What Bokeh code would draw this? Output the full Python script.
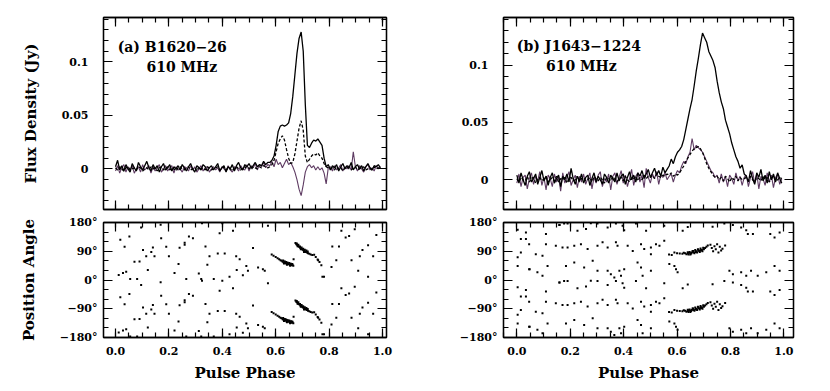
import numpy as np
from bokeh.plotting import figure
from bokeh.layouts import row, column
from bokeh.models import Range1d, LinearAxis, FixedTicker, Label, CustomJSTickFormatter
from bokeh.embed import file_html
from bokeh.resources import INLINE

# ---------------- data ----------------
n_bins = 128
phase = [i / n_bins for i in range(n_bins)]

# (a) B1620-26 : total intensity (solid), linear (dashed), circular (purple)
a_I = [
    0.002, 0.008, -0.001, 0.003, -0.002, 0.004, 0.000, -0.003, 0.005, 0.001, -0.002, 0.006, 0.002, -0.001, 0.003, 0.007,
    0.001, -0.002, 0.004, 0.000, 0.003, -0.003, 0.002, 0.005, -0.001, 0.001, 0.004, -0.002, 0.002, 0.000, 0.003, -0.001,
    0.004, 0.001, -0.002, 0.002, 0.005, 0.000, -0.003, 0.003, 0.001, -0.001, 0.004, 0.002, -0.002, 0.001, 0.003, -0.001,
    0.002, 0.005, -0.002, 0.001, 0.003, -0.003, 0.002, 0.000, 0.004, -0.002, 0.003, 0.006, 0.001, -0.001, 0.004, 0.002,
    0.005, 0.001, 0.003, 0.006, 0.002, 0.004, 0.003, 0.007, 0.004, 0.006,
    0.006, 0.008, 0.012, 0.022, 0.035, 0.040, 0.041, 0.040, 0.041, 0.043, 0.052, 0.068, 0.088, 0.108, 0.122, 0.128,
    0.110, 0.060, 0.022, 0.020, 0.024, 0.027, 0.026, 0.028, 0.025, 0.022, 0.010, 0.002, 0.004,
    -0.001, 0.003, 0.001, 0.004, -0.002, 0.002, 0.005, 0.000, 0.003, 0.001, 0.006, -0.001, 0.002, 0.004, 0.000, 0.003,
    -0.002, 0.002, 0.005, 0.001, -0.001, 0.003, 0.002, 0.004, 0.001]
a_L = [
    0.001, -0.001, 0.002, 0.000, -0.002, 0.001, 0.002, -0.001, 0.000, 0.001, -0.001, 0.002, 0.001, -0.002, 0.000, 0.001,
    -0.001, 0.002, 0.000, 0.001, -0.002, 0.001, 0.002, -0.001, 0.000, 0.002, -0.001, 0.001, 0.000, -0.002, 0.001, 0.002,
    0.000, -0.001, 0.001, 0.002, -0.001, 0.000, 0.001, -0.002, 0.002, 0.000, 0.001, -0.001, 0.002, 0.001, -0.001, 0.000,
    0.001, 0.002, -0.001, 0.000, 0.002, -0.001, 0.001, 0.000, -0.002, 0.001, 0.002, 0.000, -0.001, 0.001, 0.002, 0.000,
    0.001, -0.001, 0.002, 0.001, 0.000, 0.002, 0.001, 0.003, 0.002, 0.001,
    0.002, 0.004, 0.008, 0.016, 0.024, 0.028, 0.031, 0.027, 0.018, 0.010, 0.005, 0.006, 0.014, 0.026, 0.038, 0.045,
    0.036, 0.012, 0.006, 0.009, 0.012, 0.014, 0.013, 0.015, 0.012, 0.010, 0.005, 0.002, 0.001,
    0.000, 0.001, -0.001, 0.002, 0.000, 0.001, -0.002, 0.001, 0.002, 0.000, -0.001, 0.001, 0.002, -0.001, 0.000, 0.001,
    0.002, -0.001, 0.000, 0.001, -0.001, 0.002, 0.000, 0.001, 0.000]
a_V = [
    -0.002, 0.003, -0.004, 0.001, 0.004, -0.003, 0.002, -0.001, 0.003, -0.004, 0.000, 0.002, -0.003, 0.004, -0.001, 0.001,
    0.003, -0.004, 0.002, -0.002, 0.001, 0.004, -0.003, 0.000, 0.003, -0.002, 0.001, 0.003, -0.004, 0.002, -0.001, 0.000,
    -0.003, 0.002, 0.001, -0.002, 0.003, -0.001, 0.002, -0.003, 0.000, 0.003, -0.002, 0.001, 0.002, -0.003, 0.000, 0.002,
    -0.001, 0.001, -0.003, 0.002, 0.000, -0.002, 0.003, -0.001, -0.003, 0.002, 0.001, -0.002, 0.003, 0.000, -0.001, 0.004,
    -0.002, 0.003, 0.001, 0.005, -0.001, 0.004, 0.002, 0.006, 0.001, 0.004,
    0.003, 0.007, 0.002, 0.009, 0.004, 0.006, 0.001, 0.005, 0.009, 0.004, 0.006, 0.002, -0.003, -0.010, -0.019, -0.025,
    -0.015, -0.003, 0.002, 0.004, 0.001, 0.003, -0.001, 0.002, -0.001, 0.001, -0.004, -0.014, 0.001,
    0.002, -0.002, 0.003, -0.001, 0.001, 0.004, -0.002, 0.002, 0.000, 0.003, -0.001, 0.016, 0.002, -0.002, 0.003, 0.000,
    -0.003, 0.002, 0.004, -0.001, 0.001, -0.002, 0.003, 0.000, 0.002]

# (b) J1643-1224
b_I = [
    0.004, -0.003, 0.006, 0.000, -0.005, 0.003, 0.007, -0.002, 0.001, 0.005, -0.004, 0.002, 0.008, -0.001, 0.003, -0.005,
    0.002, 0.006, -0.003, 0.001, 0.004, -0.006, 0.003, 0.000, 0.005, -0.002, 0.010, 0.001, -0.004, 0.003, -0.001, 0.005,
    -0.003, 0.002, 0.004, -0.005, 0.001, 0.006, -0.002, 0.003, 0.000, -0.004, 0.005, 0.002, -0.003, 0.004, 0.001, -0.002,
    0.006, -0.001, 0.003, 0.005, -0.004, 0.002, 0.007, 0.000, 0.004, -0.002, 0.006, 0.003, 0.008, 0.001, 0.005, 0.009,
    0.002, 0.006, 0.010, 0.004, 0.008, 0.003, 0.011, 0.006, 0.009,
    0.012, 0.018, 0.014, 0.020, 0.024, 0.026, 0.029, 0.035, 0.044, 0.053, 0.062, 0.070, 0.082, 0.095, 0.106, 0.118,
    0.128, 0.124, 0.120, 0.112, 0.108, 0.104, 0.098, 0.086, 0.076, 0.068, 0.062, 0.052, 0.046, 0.040, 0.032, 0.026,
    0.020, 0.016, 0.010, 0.013, 0.005,
    0.003, -0.002, 0.008, 0.001, -0.004, 0.006, 0.002, 0.009, -0.001, 0.004, -0.003, 0.007, 0.000, 0.005, -0.002, 0.006,
    0.001, -0.003]
b_L = [
    0.001, -0.002, 0.002, 0.000, -0.001, 0.003, -0.002, 0.001, 0.002, -0.003, 0.000, 0.002, -0.001, 0.001, 0.003, -0.002,
    0.000, 0.002, -0.001, 0.003, -0.002, 0.001, 0.000, 0.002, -0.003, 0.001, 0.002, -0.001, 0.000, 0.003, -0.002, 0.001,
    0.002, -0.001, 0.000, 0.002, -0.002, 0.003, 0.001, -0.001, 0.002, 0.000, -0.003, 0.002, 0.001, -0.001, 0.003, 0.000,
    -0.002, 0.001, 0.002, -0.001, 0.003, 0.000, -0.002, 0.002, 0.001, 0.003, -0.001, 0.002, 0.000, 0.004, 0.001, 0.003,
    0.002, 0.004, 0.001, 0.005, 0.003, 0.002, 0.004, 0.003, 0.005,
    0.004, 0.006, 0.003, 0.005, 0.004, 0.006, 0.009, 0.012, 0.016, 0.019, 0.022, 0.025, 0.027, 0.028, 0.029, 0.027,
    0.024, 0.019, 0.014, 0.010, 0.007, 0.004, 0.002, 0.003, 0.000, 0.002, -0.001, 0.003, 0.001, -0.002, 0.002, 0.000,
    0.003, -0.001, 0.002, 0.000, 0.001,
    0.002, -0.001, 0.003, 0.000, -0.002, 0.002, 0.001, -0.001, 0.003, 0.000, 0.002, -0.002, 0.001, 0.003, -0.001, 0.000,
    0.002, 0.001]
b_V = [
    -0.003, 0.005, -0.006, 0.002, 0.004, -0.008, 0.001, 0.006, -0.004, 0.003, -0.001, 0.007, -0.005, 0.002, -0.009, 0.004,
    0.001, -0.006, 0.005, -0.002, 0.003, -0.010, 0.006, -0.003, 0.002, 0.007, -0.005, 0.000, 0.004, -0.007, 0.003, -0.002,
    0.005, -0.004, 0.001, 0.006, -0.008, 0.002, -0.003, 0.004, 0.007, -0.006, 0.001, -0.002, 0.005, -0.009, 0.003, 0.006,
    -0.004, 0.002, 0.008, -0.003, 0.004, -0.006, 0.001, 0.009, -0.005, 0.003, 0.006, -0.002, 0.004, -0.007, 0.010, 0.002,
    -0.003, 0.005, 0.001, 0.007, -0.004, 0.004, 0.002, 0.006, 0.000,
    0.003, 0.005, -0.002, 0.004, 0.008, 0.006, 0.012, 0.016, 0.014, 0.020, 0.024, 0.036, 0.026, 0.030, 0.028, 0.026,
    0.024, 0.020, 0.016, 0.012, 0.008, 0.006, 0.002, 0.004, -0.003, 0.005, -0.002, 0.003, -0.006, 0.004, 0.001, -0.004,
    0.006, -0.001, 0.003, -0.005, 0.002,
    0.004, -0.006, 0.002, 0.007, -0.003, 0.005, -0.008, 0.003, 0.001, -0.005, 0.006, -0.002, 0.004, -0.007, 0.002, 0.005,
    -0.004, 0.001]

# position angles (deg, 0..180); each is also shown at PA-180
a_pa_phase = [
    0.052, 0.018, 0.034, 0.103, 0.140, 0.134, 0.190, 0.171, 0.275, 0.290,
    0.071, 0.090, 0.115, 0.146, 0.200, 0.240, 0.259, 0.337, 0.390, 0.440,
    0.383, 0.409, 0.452, 0.352, 0.344, 0.236, 0.121, 0.040, 0.028, 0.012,
    0.454, 0.427, 0.368, 0.321, 0.265, 0.221, 0.081, 0.055, 0.312, 0.096,
    0.169, 0.324, 0.400, 0.259, 0.571, 0.846, 0.862, 0.875, 0.896, 0.977,
    0.515, 0.812, 0.837, 0.925, 0.946, 0.965, 0.915, 0.884, 0.827, 0.759,
    0.534, 0.490, 0.465, 0.477, 0.559, 0.775, 0.781, 0.809, 0.909, 0.946,
    0.552, 0.496, 0.667,
    0.585, 0.592, 0.600, 0.607, 0.613, 0.618, 0.622, 0.626, 0.630, 0.633,
    0.636, 0.640, 0.643, 0.646, 0.650, 0.653, 0.656, 0.660, 0.663, 0.666,
    0.628, 0.634, 0.639, 0.645, 0.651, 0.657, 0.662, 0.631, 0.642, 0.654,
    0.674, 0.677, 0.680, 0.683, 0.686, 0.689, 0.692, 0.695, 0.698, 0.701,
    0.704, 0.707, 0.710, 0.713, 0.717, 0.721, 0.726, 0.731, 0.737, 0.744,
    0.750, 0.757, 0.764, 0.771,
    0.679, 0.685, 0.691, 0.697, 0.703, 0.709, 0.715, 0.720, 0.682, 0.694,
    0.706]
a_pa_deg = [
    136, 126, 104, 94, 102, 88, 104, 131, 136, 131,
    57, 58, 74, 74, 74, 101, 110, 105, 146, 154,
    83, 83, 74, 74, 48, 50, 31, 26, 22, 16,
    31, 10, 3, 3, 3, 22, 3, 3, 20, 164,
    173, 178, 178, 117, 170, 154, 133, 138, 159, 141,
    100, 105, 105, 94, 109, 74, 74, 62, 62, 62,
    39, 44, 65, 15, 29, 10, 10, 41, 29, 10,
    34, 29, 65,
    80, 76, 72, 68, 65, 62, 60, 57, 55, 57,
    53, 51, 54, 49, 51, 47, 49, 46, 48, 45,
    61, 58, 56, 54, 53, 51, 50, 52, 48, 45,
    116, 112, 110, 107, 105, 103, 100, 99, 97, 95,
    93, 91, 89, 88, 86, 84, 82, 80, 78, 79,
    72, 64, 56, 46,
    114, 110, 105, 102, 98, 95, 92, 89, 106, 96,
    88]

b_pa_phase = [
    0.003, 0.034, 0.015, 0.109, 0.159, 0.177, 0.190, 0.227, 0.277, 0.259,
    0.302, 0.340, 0.371, 0.396, 0.402, 0.446, 0.484, 0.552, 0.621, 0.640,
    0.733, 0.777, 0.809, 0.840, 0.859, 0.865, 0.884, 0.949, 0.965, 0.984,
    0.034, 0.046, 0.015, 0.071, 0.096, 0.003, 0.109, 0.146, 0.171, 0.190,
    0.215, 0.240, 0.265, 0.302, 0.321, 0.340, 0.371, 0.377, 0.415, 0.434,
    0.465, 0.477, 0.502, 0.521, 0.534, 0.552, 0.502,
    0.003, 0.046, 0.077, 0.096, 0.115, 0.184, 0.215, 0.252, 0.284, 0.302,
    0.340, 0.352, 0.365, 0.384, 0.390, 0.402, 0.452, 0.465, 0.471, 0.502,
    0.571, 0.590, 0.596, 0.602, 0.796, 0.809, 0.840, 0.859, 0.877, 0.902,
    0.934, 0.965, 0.984, 0.160, 0.048,
    0.570, 0.580, 0.590, 0.600, 0.610, 0.620, 0.625, 0.630, 0.635, 0.640,
    0.645, 0.650, 0.655, 0.660, 0.665, 0.670, 0.675, 0.680, 0.685, 0.690,
    0.695, 0.700, 0.705, 0.710, 0.715, 0.640, 0.650, 0.660, 0.670, 0.680,
    0.690, 0.700,
    0.643, 0.647, 0.653, 0.658, 0.663, 0.668, 0.673, 0.678, 0.683, 0.688,
    0.693, 0.698,
    0.725, 0.730, 0.735, 0.740, 0.745, 0.750, 0.755, 0.760, 0.765, 0.770,
    0.780]
b_pa_deg = [
    157, 149, 128, 144, 172, 177, 177, 154, 178, 160,
    177, 164, 177, 170, 156, 177, 154, 170, 154, 166,
    167, 177, 172, 164, 156, 144, 144, 144, 133, 149,
    128, 112, 86, 81, 76, 71, 112, 107, 102, 102,
    107, 112, 97, 107, 118, 102, 118, 107, 107, 91,
    112, 97, 102, 112, 107, 123, 81,
    44, 34, 24, 13, 44, 44, 55, 39, 60, 29,
    29, 18, 8, 29, 13, 34, 55, 39, 13, 29,
    50, 44, 34, 24, 29, 18, 24, 13, 29, 13,
    24, 44, 29, 172, 34,
    80, 78, 86, 84, 83, 82, 85, 84, 81, 83,
    85, 80, 86, 88, 84, 90, 86, 92, 88, 94,
    90, 96, 100, 104, 108, 87, 84, 91, 88, 95,
    92, 98,
    80, 88, 83, 91, 86, 94, 89, 96, 91, 99,
    94, 101,
    110, 100, 90, 106, 96, 112, 86, 104, 92, 98,
    108]

x_major = [0.0, 0.2, 0.4, 0.6, 0.8, 1.0]
x_labels = ["0.0", "0.2", "0.4", "0.6", "0.8", "1.0"]
flux_major = [0.0, 0.05, 0.1]
flux_labels = ["0", "0.05", "0.1"]
pa_major = [-180, -90, 0, 90, 180]
pa_labels = ["\u2212180\u00b0", "\u221290\u00b0", "0\u00b0", "90\u00b0", "180\u00b0"]

title_a = ["(a) B1620\u221226", "610 MHz"]
title_b = ["(b) J1643\u22121224", "610 MHz"]

# ---------------- styling ----------------
FONT = "DejaVu Serif"
PURPLE = "#5e3b62"
x_minor = list(np.round(np.arange(-0.05, 1.0501, 0.05), 3))
flux_minor = list(np.round(np.arange(-0.04, 0.1401, 0.01), 3))
pa_minor = list(range(-180, 181, 30))


def make_fig(width, height, xr, yr, borders):
    p = figure(width=width, height=height, x_range=Range1d(*xr), y_range=Range1d(*yr),
               output_backend="svg", toolbar_location=None,
               x_axis_type=None, y_axis_type=None,
               min_border_left=borders[0], min_border_right=borders[1],
               min_border_top=borders[2], min_border_bottom=borders[3],
               background_fill_color="white", border_fill_color="white")
    p.outline_line_color = "black"
    p.outline_line_width = 1.3
    return p


def add_axis(p, loc, major, minor, labels=None, standoff=8, axis_label=None, label_standoff=6):
    ax = LinearAxis(ticker=FixedTicker(ticks=major, minor_ticks=minor))
    ax.major_tick_in = 9
    ax.major_tick_out = 0
    ax.minor_tick_in = 5
    ax.minor_tick_out = 0
    ax.axis_line_width = 1.3
    ax.major_tick_line_width = 1.2
    ax.minor_tick_line_width = 1.2
    if labels is None:
        ax.formatter = CustomJSTickFormatter(code="return ''")
        ax.major_label_text_font_size = "0px"
        ax.major_label_standoff = 0
    else:
        ax.major_label_overrides = dict(zip(major, labels))
        ax.major_label_text_font = FONT
        ax.major_label_text_font_size = "11px"
        ax.major_label_text_font_style = "bold"
        ax.major_label_text_color = "black"
        ax.major_label_standoff = standoff
    if axis_label:
        ax.axis_label = axis_label
        ax.axis_label_text_font = FONT
        ax.axis_label_text_font_size = "15px"
        ax.axis_label_text_font_style = "bold"
        ax.axis_label_text_color = "black"
        ax.axis_label_standoff = label_standoff
    p.add_layout(ax, loc)
    return ax


def top_panel(width, borders, xr, yr, I, L, V, ylabel):
    p = make_fig(width, 215, xr, yr, borders)
    add_axis(p, "below", x_major, x_minor)
    add_axis(p, "above", x_major, x_minor)
    add_axis(p, "right", flux_major, flux_minor)
    add_axis(p, "left", flux_major, flux_minor, flux_labels, standoff=15,
             axis_label=ylabel, label_standoff=19)
    p.line(phase, V, line_color=PURPLE, line_width=1.1)
    p.line(phase, I, line_color="black", line_width=1.3)
    p.line(phase, L, line_color="black", line_width=1.3, line_dash="3 2")
    return p


def bottom_panel(width, borders, xr, pa_x, pa_y, ylabel):
    p = make_fig(width, 172, xr, (-180, 180), borders)
    add_axis(p, "below", x_major, x_minor, x_labels, standoff=9,
             axis_label="Pulse Phase", label_standoff=6)
    add_axis(p, "above", x_major, x_minor)
    add_axis(p, "right", pa_major, pa_minor)
    add_axis(p, "left", pa_major, pa_minor, pa_labels, standoff=6,
             axis_label=ylabel, label_standoff=19)
    xs = list(pa_x) + list(pa_x)
    ys = list(pa_y) + [d - 180 for d in pa_y]
    p.scatter(xs, ys, marker="square", size=2.0, fill_color="black", line_color=None)
    return p


xr_a = (-0.045, 1.015)
xr_b = (-0.05, 1.036)

pa_top = top_panel(406, (103, 20, 17, 6), xr_a, (-0.038, 0.1416), a_I, a_L, a_V,
                   "Flux Density (Jy)")
pb_top = top_panel(397, (97, 10, 17, 6), xr_b, (-0.026, 0.1416), b_I, b_L, b_V, None)
pa_bot = bottom_panel(406, (103, 20, 7, 50), xr_a, a_pa_phase, a_pa_deg, "Position Angle")
pb_bot = bottom_panel(397, (97, 10, 7, 50), xr_b, b_pa_phase, b_pa_deg, None)

for p, titles, pos in ((pa_top, title_a, [(0.008, 0.1215), (0.116, 0.1025)]),
                       (pb_top, title_b, [(0.0, 0.1235), (0.109, 0.106)])):
    for txt, (lx, ly) in zip(titles, pos):
        p.add_layout(Label(x=lx, y=ly, text=txt, text_font=FONT, text_font_size="14px",
                           text_font_style="bold", text_color="black", text_baseline="top"))

layout = row(column(pa_top, pa_bot), column(pb_top, pb_bot))
open("out.html", "w").write(file_html(layout, INLINE))
